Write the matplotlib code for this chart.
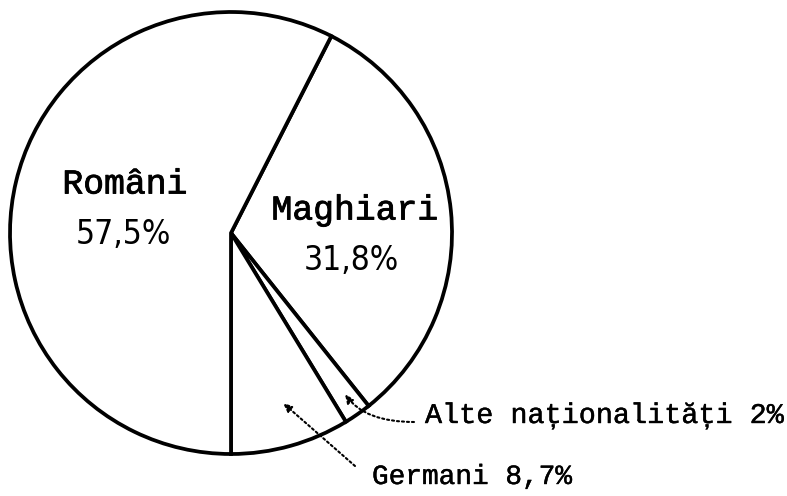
import matplotlib
matplotlib.use("Agg")
import matplotlib.pyplot as plt
import matplotlib.patheffects as pe

# data (clockwise from the top-right boundary)
categories = ["Maghiari", "Alte naționalități", "Germani", "Români"]
values = [31.8, 2.0, 8.7, 57.5]
value_labels = ["31,8%", "2%", "8,7%", "57,5%"]

W, H = 787, 496
fig = plt.figure(figsize=(W / 100, H / 100), dpi=100)
cx, cy, r = 231, 233, 221
ax = fig.add_axes([(cx - r) / W, (H - cy - r) / H, 2 * r / W, 2 * r / H])

wedges, _ = ax.pie(values, startangle=63, counterclock=False, radius=1,
                   colors=["white"] * 4,
                   wedgeprops=dict(edgecolor="black", linewidth=2.7))
ax.set_xlim(-1, 1)
ax.set_ylim(-1, 1)
ax.axis("off")
for w in wedges:
    w.set_clip_on(False)


def px(x, y):
    return ((x - cx) / r, (cy - y) / r)


mono = "Liberation Mono"
sans = dict(family="DejaVu Sans", stretch="condensed")
thick = [pe.withStroke(linewidth=0.6, foreground="black")]
thin = [pe.withStroke(linewidth=0.3, foreground="black")]

# inside labels
ax.text(*px(125, 184), categories[3], family=mono, fontsize=25,
        ha="center", va="center", path_effects=thick)
ax.text(*px(123, 234), value_labels[3], fontsize=24, ha="center", va="center", **sans)
ax.text(*px(355, 210), categories[0], family=mono, fontsize=25,
        ha="center", va="center", path_effects=thick)
ax.text(*px(351, 260), value_labels[0], fontsize=24, ha="center", va="center", **sans)

# outside labels
ax.text(*px(425, 416), f"{categories[1]} {value_labels[1]}", family=mono,
        fontsize=20.5, ha="left", va="center", path_effects=thin)
ax.text(*px(372, 477), f"{categories[2]} {value_labels[2]}", family=mono,
        fontsize=20, ha="left", va="center", path_effects=thin)

# dotted pointer arrows
arrow = dict(arrowstyle="-|>,head_length=0.5,head_width=0.22",
             linestyle=(0, (1, 1.4)), color="black", lw=1.5,
             shrinkA=0, shrinkB=0)
ax.annotate("", xy=px(345, 394), xytext=px(414, 422), annotation_clip=False,
            arrowprops=dict(arrow, connectionstyle="angle3,angleA=0,angleB=-55"))
ax.annotate("", xy=px(283, 403), xytext=px(355, 466), annotation_clip=False,
            arrowprops=arrow)

fig.savefig("out.png", dpi=100, facecolor="white")
